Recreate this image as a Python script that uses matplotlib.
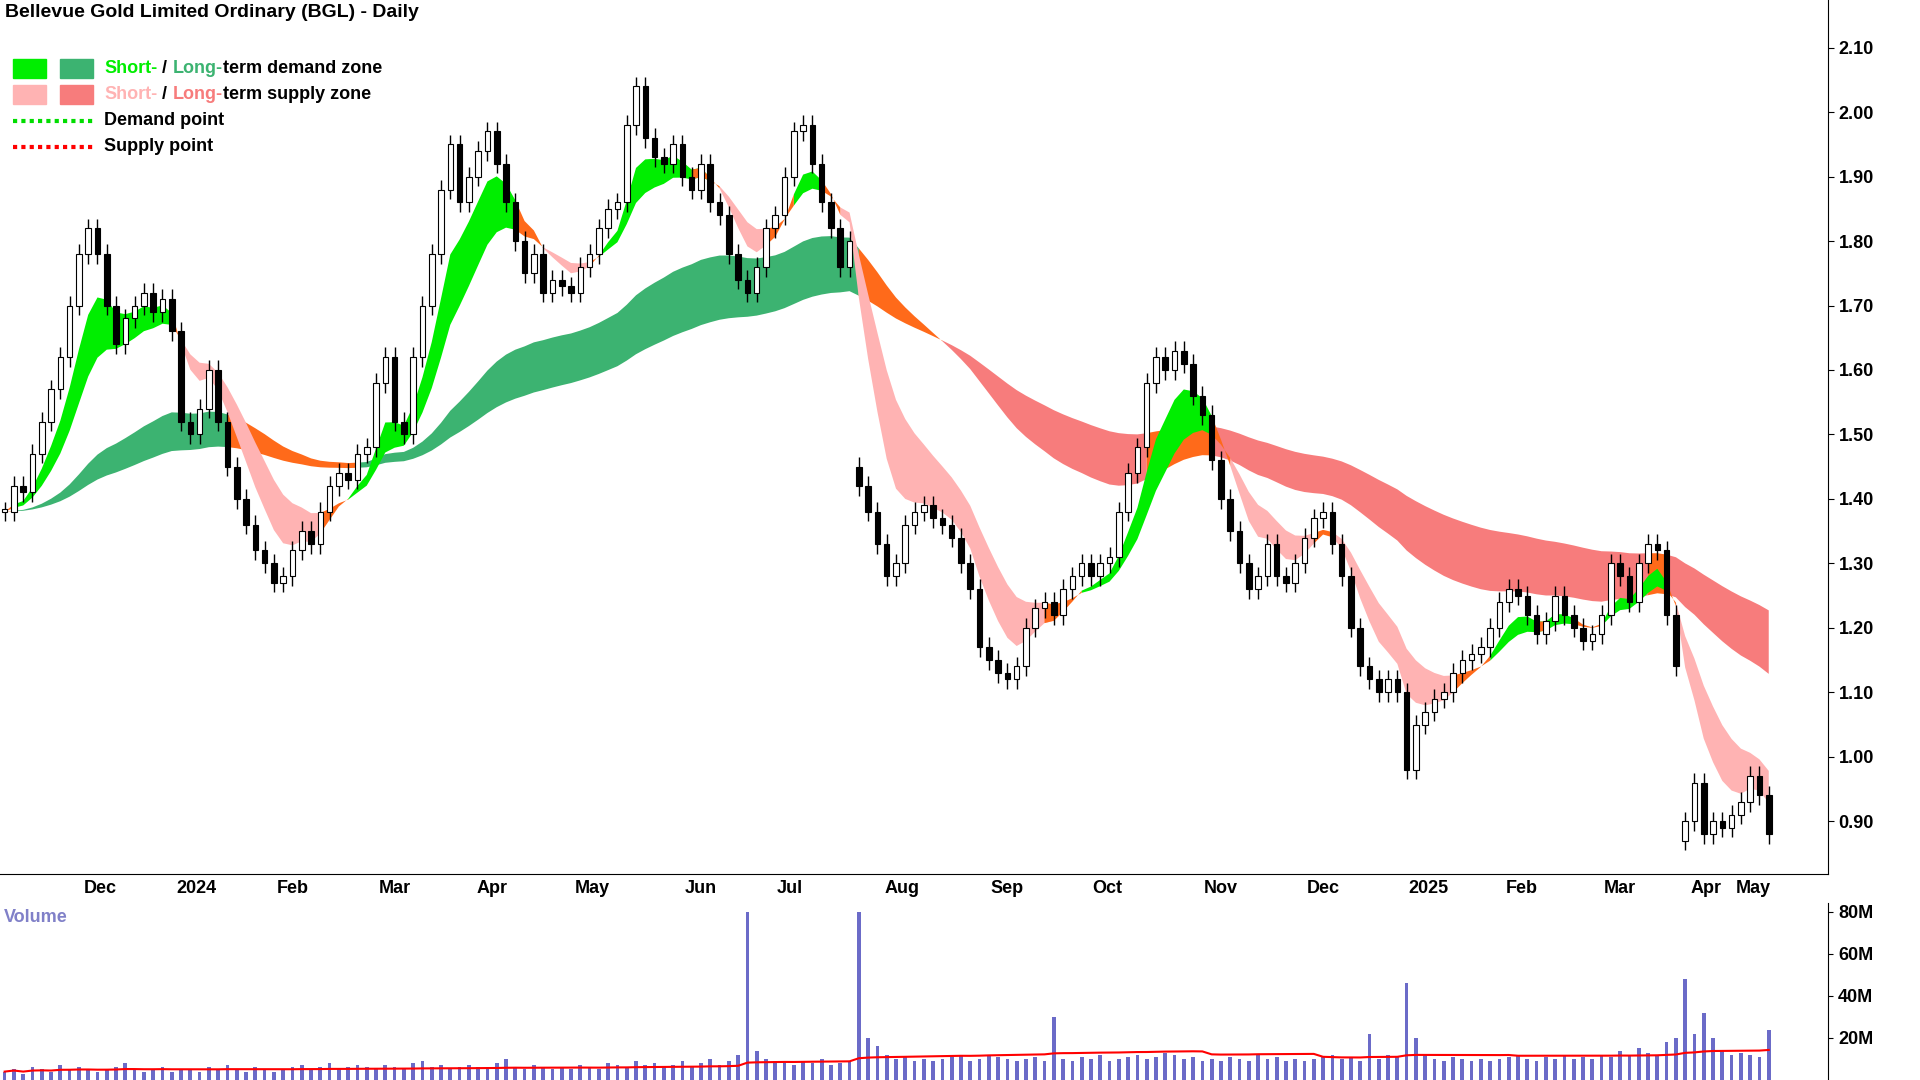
import numpy as np
import pandas as pd
import matplotlib
matplotlib.use("Agg")
import matplotlib.pyplot as plt
from matplotlib.patches import Rectangle
from matplotlib.lines import Line2D

plt.rcParams["font.family"] = "Liberation Sans"

title = "Bellevue Gold Limited Ordinary (BGL) - Daily"
closes = [1.38,1.42,1.41,1.47,1.52,1.57,1.62,1.70,1.78,1.82,
          1.78,1.70,1.64,1.68,1.70,1.72,1.69,1.71,1.66,1.52,
          1.50,1.54,1.60,1.52,1.45,1.40,1.36,1.32,1.30,1.27,
          1.28,1.32,1.35,1.33,1.38,1.42,1.44,1.43,1.47,1.48,
          1.58,1.62,1.52,1.50,1.62,1.70,1.78,1.88,1.95,1.86,
          1.90,1.94,1.97,1.92,1.86,1.80,1.75,1.78,1.72,1.74,
          1.73,1.72,1.76,1.78,1.82,1.85,1.86,1.98,2.04,1.96,
          1.93,1.92,1.95,1.90,1.88,1.92,1.86,1.84,1.78,1.74,
          1.72,1.76,1.82,1.84,1.90,1.97,1.98,1.92,1.86,1.82,
          1.76,1.80,1.42,1.38,1.33,1.28,1.30,1.36,1.38,1.39,
          1.37,1.36,1.34,1.30,1.26,1.17,1.15,1.13,1.12,1.14,
          1.20,1.23,1.24,1.22,1.26,1.28,1.30,1.28,1.30,1.31,
          1.38,1.44,1.48,1.58,1.62,1.60,1.63,1.61,1.56,1.53,
          1.46,1.40,1.35,1.30,1.26,1.28,1.33,1.28,1.27,1.30,
          1.34,1.37,1.38,1.33,1.28,1.20,1.14,1.12,1.10,1.12,
          1.10,0.98,1.05,1.07,1.09,1.10,1.13,1.15,1.16,1.17,
          1.20,1.24,1.26,1.25,1.22,1.19,1.21,1.25,1.22,1.20,
          1.18,1.19,1.22,1.30,1.28,1.24,1.30,1.33,1.32,1.22,
          1.14,0.90,0.96,0.88,0.90,0.89,0.91,0.93,0.97,0.94,
          0.88]
gap_open_idx = [92, 181]
gap_open_val = [1.45, 0.87]
volumes_m = [4,5,3,6,5,4,7,5,6,5,
             4,5,6,8,5,4,5,6,4,5,
             5,4,6,5,7,5,4,6,5,4,
             5,6,7,5,6,8,5,6,7,6,
             5,7,6,5,8,9,6,7,5,6,
             7,6,5,8,10,6,5,7,6,5,
             6,5,7,6,5,8,7,6,9,7,
             8,6,7,9,6,8,10,7,9,12,
             80,14,10,9,8,7,9,8,10,7,
             8,9,80,20,16,12,10,11,9,10,
             9,10,11,12,9,10,12,11,10,9,
             10,11,9,30,10,9,11,10,12,9,
             10,11,12,10,11,13,12,10,11,9,
             10,9,11,10,9,12,10,11,9,10,
             9,10,11,12,10,11,9,22,10,12,
             11,46,20,12,10,9,11,10,9,10,
             9,10,11,12,10,9,11,10,12,10,
             11,10,12,11,14,12,15,13,12,18,
             20,48,22,32,20,14,12,13,12,11,
             24]
tick_labels = ["Dec","2024","Feb","Mar","Apr","May","Jun","Jul","Aug","Sep",
               "Oct","Nov","Dec","2025","Feb","Mar","Apr","May"]
tick_pos = [10.3,20.7,31,42,52.5,63.3,75,84.6,96.6,108,118.8,131,142,153.3,163.4,174,183.3,188.3]
price_ticks = [0.90,1.00,1.10,1.20,1.30,1.40,1.50,1.60,1.70,1.80,1.90,2.00,2.10]

c = pd.Series(closes)
o = c.shift(1).fillna(c.iloc[0]).values.copy()
for gi, gv in zip(gap_open_idx, gap_open_val):
    o[gi] = gv
x = np.arange(len(c))
hi = np.maximum(o, c.values) + 0.015
lo = np.minimum(o, c.values) - 0.015

fig = plt.figure(figsize=(19.2, 10.8), dpi=100)
R = 1493/1568
ax = fig.add_axes([0, 1-713/881, R, 713/881])
axv = fig.add_axes([0, 0, R, 1-737/881])

def zone(a, fast, slow, col_up, col_dn, col_mid):
    f = c.ewm(span=fast, adjust=False).mean().values
    s = c.ewm(span=slow, adjust=False).mean().values
    up = (f > s) & (c.values >= s)
    dn = (f < s) & (c.values <= s)
    mid = ~(up | dn)
    for mask, col in ((up, col_up), (dn, col_dn), (mid, col_mid)):
        m = mask.copy()
        m[1:] = m[1:] | mask[:-1]
        a.fill_between(x, f, s, where=m, color=col, lw=0, zorder=1)

zone(ax, 45, 85, "#3cb371", "#f77c7c", "#ff6a1a")
zone(ax, 6, 12, "#00ee00", "#ffb3b3", "#ff6a1a")

for i in x:
    ax.vlines(i, lo[i], hi[i], color="black", lw=1, zorder=2)
    up = c[i] >= o[i]
    b = min(o[i], c[i]); h = max(abs(c[i]-o[i]), 0.004)
    ax.add_patch(Rectangle((i-0.3, b), 0.6, h, facecolor="white" if up else "black",
                           edgecolor="black", lw=0.8, zorder=3))

ax.set_xlim(-0.5, 196.4)
ax.set_ylim(0.818, 2.174)
ax.yaxis.tick_right()
ax.set_yticks(price_ticks)
ax.set_yticklabels([f"{v:.2f}" for v in price_ticks], fontsize=13, fontweight="bold")
ax.set_xticks(tick_pos)
ax.set_xticklabels(tick_labels, fontsize=13, fontweight="bold")
for s in ("top", "left"):
    ax.spines[s].set_visible(False)
ax.tick_params(axis="x", length=0, pad=4)
ax.tick_params(axis="y", length=4)

ax.text(0.003, 0.995, title, transform=ax.transAxes, fontsize=14, fontweight="bold",
        va="top", ha="left")
leg = [("#00ee00", "#3cb371"), ("#ffb3b3", "#f77c7c")]
y0 = 0.922
for k, (c1, c2) in enumerate(leg):
    yy = y0 - k*0.03
    ax.add_patch(Rectangle((0.007, yy-0.011), 0.018, 0.022, transform=ax.transAxes, color=c1, zorder=5))
    ax.add_patch(Rectangle((0.033, yy-0.011), 0.018, 0.022, transform=ax.transAxes, color=c2, zorder=5))
    t1 = ax.text(0.057, yy, "Short-", transform=ax.transAxes, color=c1, fontsize=13, fontweight="bold", va="center")
    t2 = ax.annotate(" / ", xycoords=t1, xy=(1, 0), va="bottom", fontsize=13, fontweight="bold", color="black")
    t3 = ax.annotate("Long-", xycoords=t2, xy=(1, 0), va="bottom", fontsize=13, fontweight="bold", color=c2)
    ax.annotate("term " + ("demand" if k == 0 else "supply") + " zone", xycoords=t3, xy=(1, 0),
                va="bottom", fontsize=13, fontweight="bold", color="black")
for k, (col, lab) in enumerate([("#00dd00", "Demand point"), ("red", "Supply point")]):
    yy = y0 - (k+2)*0.03
    ax.add_line(Line2D([0.007, 0.051], [yy, yy], transform=ax.transAxes, color=col, lw=3, ls=(0, (1, 1))))
    ax.text(0.057, yy, lab, transform=ax.transAxes, fontsize=13, fontweight="bold", va="center")

v = pd.Series(volumes_m)
axv.bar(x, v, width=0.4, color="#6b6bc8")
axv.plot(x, v.rolling(50, min_periods=1).mean(), color="red", lw=1.5)
axv.set_xlim(-0.5, 196.4)
axv.set_ylim(0, 84)
axv.yaxis.tick_right()
axv.set_yticks([20, 40, 60, 80])
axv.set_yticklabels(["20M", "40M", "60M", "80M"], fontsize=13, fontweight="bold")
axv.set_xticks([])
for s in ("top", "left", "bottom"):
    axv.spines[s].set_visible(False)
axv.text(0.002, 0.97, "Volume", transform=axv.transAxes, fontsize=13, fontweight="bold",
         color="#8080c8", va="top")
fig.savefig("out.png", dpi=100)
